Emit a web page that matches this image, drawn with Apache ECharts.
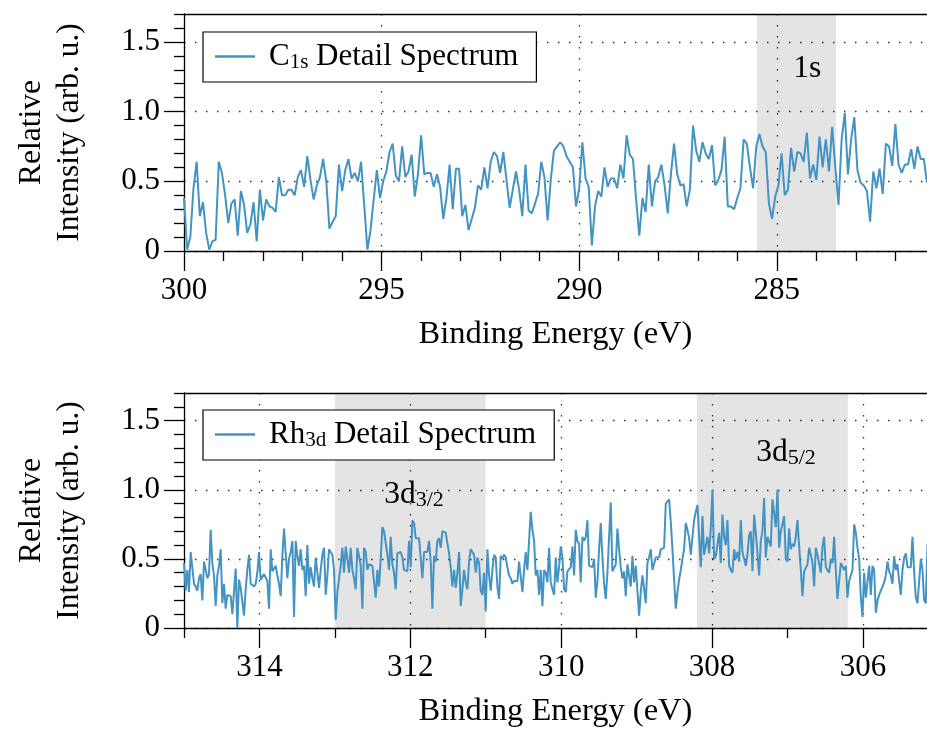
<!DOCTYPE html>
<html><head><meta charset="utf-8">
<script src="https://cdn.jsdelivr.net/npm/echarts@6/dist/echarts.min.js"></script>
<style>html,body{margin:0;padding:0;background:#fff}#c{width:927px;height:729px}</style>
</head><body><div id="c"></div>
<script>
// ---------- data ----------
const C1S_START = 300, C1S_STEP = 0.08;
const c1sIntensity = [
0.38,0.01,0.1,0.45,0.64,0.25,0.35,0.13,0.01,0.07,
0.08,0.64,0.56,0.4,0.2,0.34,0.37,0.11,0.43,0.33,
0.13,0.19,0.35,0.07,0.44,0.22,0.37,0.32,0.31,0.28,
0.53,0.4,0.4,0.44,0.44,0.4,0.53,0.58,0.46,0.68,
0.51,0.37,0.47,0.53,0.66,0.5,0.16,0.21,0.25,0.62,
0.43,0.58,0.66,0.52,0.56,0.5,0.64,0.33,
0.01,0.15,0.37,0.58,0.38,0.5,0.57,0.71,0.77,0.54,
0.5,0.75,0.53,0.57,0.69,0.39,0.55,0.83,0.55,0.56,
0.56,0.46,0.55,0.46,0.23,0.38,0.62,0.3,0.59,0.59,
0.25,0.33,0.15,0.23,0.31,0.47,0.44,0.6,0.45,0.64,
0.71,0.68,0.56,0.71,0.51,0.31,0.44,0.57,0.44,0.25,
0.62,0.29,0.27,0.34,0.41,0.64,
0.53,0.22,0.51,0.72,0.75,0.78,0.75,0.68,0.64,0.6,
0.32,0.45,0.78,0.52,0.46,0.04,0.32,0.43,0.39,0.6,
0.46,0.52,0.52,0.45,0.62,0.52,0.83,0.69,0.66,0.37,
0.11,0.38,0.28,0.62,0.32,0.5,0.53,0.62,0.47,0.27,
0.55,0.77,0.55,0.47,0.48,0.32,0.44,0.9,0.72,0.64,
0.78,0.7,0.66,0.76,0.47,0.51,0.58,0.82,0.32,
0.32,0.3,0.38,0.45,0.8,0.77,0.6,0.45,0.75,0.84,
0.75,0.71,0.34,0.23,0.39,0.47,0.7,0.4,0.44,0.74,
0.57,0.71,0.7,0.64,0.85,0.52,0.62,0.51,0.82,0.6,
0.8,0.57,0.89,0.6,0.33,0.8,0.99,0.55,0.8,0.96,
0.58,0.49,0.47,0.43,0.21,0.57,0.45,0.59,0.41,0.77,
0.75,0.61,0.91,0.62,0.56,0.62,0.62,0.73,0.59,0.75,
0.66,0.66,0.49
];
const RH_START = 315, RH_STEP = 0.0221;
const rh3dIntensity = [
0.47,0.27,0.42,0.26,0.55,0.55,0.32,0.3,0.27,0.36,
0.39,0.2,0.48,0.48,0.36,0.39,0.71,0.47,0.38,0.16,
0.38,0.45,0.57,0.18,0.32,0.14,0.24,0.23,0.23,0.1,
0.11,0.43,0.0,0.35,0.29,0.28,0.09,0.28,0.42,0.53,
0.32,0.33,0.3,0.32,0.4,0.55,0.35,0.34,0.39,0.38,
0.34,0.14,0.57,0.41,0.42,0.45,0.38,0.32,0.23,0.52,
0.72,0.72,0.36,0.5,0.55,0.63,0.08,0.63,0.52,0.45,
0.57,0.42,0.45,0.23,0.6,0.32,0.44,0.36,0.3,0.51,
0.51,0.29,0.42,0.53,0.58,0.24,0.38,0.57,0.55,0.53,
0.42,0.06,0.26,0.26,0.45,0.58,0.4,0.59,0.5,0.4,
0.58,0.42,0.36,0.28,0.58,0.52,0.45,
0.14,0.58,0.55,0.42,0.46,0.45,0.45,0.45,0.22,0.42,
0.3,0.5,0.73,0.7,0.7,0.53,0.42,0.66,0.46,0.4,
0.28,0.54,0.55,0.55,0.51,0.42,0.42,0.41,0.63,0.44,
0.78,0.76,0.65,0.66,0.65,0.65,0.36,0.55,0.55,0.55,
0.63,0.48,0.14,0.52,0.48,0.63,0.65,0.58,0.7,0.69,
0.69,0.68,0.54,0.44,0.3,0.42,0.29,0.4,0.55,0.16,
0.28,0.42,0.33,0.28,0.48,0.57,0.58,0.53,0.4,0.51,
0.47,0.27,0.24,0.4,0.12,0.57,0.38,0.27,0.42,0.53,
0.51,0.3,0.21,0.52,0.5,0.53,0.51,0.44,0.38,0.36,
0.32,0.34,0.34,0.34,0.48,0.48,0.26,0.42,0.55,0.42,
0.63,0.84,0.71,0.63,0.38,0.42,0.24,0.42,
0.16,0.42,0.4,0.33,0.58,0.33,0.28,0.24,0.51,0.33,
0.44,0.59,0.51,0.28,0.26,0.41,0.42,0.44,0.59,0.38,
0.71,0.63,0.61,0.33,0.66,0.63,0.66,0.78,0.45,0.45,
0.44,0.5,0.22,0.34,0.57,0.76,0.51,0.32,0.21,0.4,
0.66,0.91,0.41,0.41,0.46,0.72,0.57,0.44,0.36,0.41,
0.23,0.46,0.46,0.3,0.52,0.33,0.45,0.46,0.09,0.26,
0.38,0.38,0.18,0.47,0.51,0.57,0.42,0.41,0.51,0.5,
0.51,0.57,0.58,0.58,0.9,0.91,0.93,0.77,0.57,0.35,
0.14,0.26,0.35,0.42,0.5,0.57,0.76,0.71,0.65,0.53,
0.52,0.78,0.84,0.89,0.66,0.44,0.81,0.53,0.53,0.66,
0.54,0.72,1.0,0.5,0.52,0.53,0.69,0.47,
0.82,0.66,0.6,0.78,0.45,0.42,0.4,0.57,0.5,0.55,
0.48,0.78,0.55,0.5,0.45,0.53,0.67,0.7,0.41,0.82,
0.69,0.54,0.38,0.63,0.7,0.94,0.51,0.66,0.66,0.59,
0.93,0.93,0.73,1.0,0.58,0.7,0.75,0.81,0.5,0.48,
0.72,0.57,0.61,0.59,0.66,0.78,0.59,0.42,0.23,0.41,
0.42,0.46,0.58,0.53,0.47,0.3,0.58,0.53,0.52,0.4,
0.59,0.66,0.44,0.42,0.4,0.5,0.47,0.66,0.42,0.21,
0.21,0.47,0.46,0.42,0.45,0.22,0.34,0.38,0.42,0.75,
0.69,0.58,0.5,0.22,0.08,0.4,0.22,0.22,0.45,0.24,
0.45,0.42,0.11,0.2,0.24,0.27,0.3,0.33,0.38,0.48,
0.41,0.38,0.32,0.52,0.42,0.46,0.34,0.24,0.42,0.51,
0.54,0.44,0.44,0.44,0.66,0.4,0.22,0.18,0.34,0.5,
0.42,0.2,0.18,0.61
];
const c1sRange = [281.2, 300];
const rhRange = [305.15, 315];
const yRange = [0, 1.7];
const c1sMajorTicks = [300, 295, 290, 285];
const c1sMinorTicks = [299,298,297,296,294,293,292,291,289,288,287,286,284,283,282];
const rhMajorTicks = [314, 312, 310, 308, 306];
const rhMinorTicks = [315, 313, 311, 309, 307];
const yMajorTicks = [0, 0.5, 1.0, 1.5];
const yMinorTicks = [0.1,0.2,0.3,0.4,0.6,0.7,0.8,0.9,1.1,1.2,1.3,1.4,1.6,1.7];
const c1sRegions = [[285.5, 283.5]];
const rhRegions = [[313, 311], [308.2, 306.2]];
const c1sNotes = [{x: 284.23, y: 1.305, main: '1s', sub: ''}];
const rhNotes = [{x: 311.95, y: 0.965, main: '3d', sub: '3/2'}, {x: 307.02, y: 1.27, main: '3d', sub: '5/2'}];

// ---------- build ----------
const FONT = 'Liberation Serif';
const BLACK = '#000';
const LINE = '#4393c3';
const dotted = {color: '#333', width: 1.3, type: [1.5, 9.5]};

function mkPairs(start, step, vals) { return vals.map((v, i) => [+(start - i * step).toFixed(4), v]); }

function xAxes(grid, range, major, minor, name) {
  return [
    { gridIndex: grid, type: 'value', min: range[0], max: range[1], inverse: true, position: 'bottom',
      axisLine: {show: true, onZero: false, lineStyle: {color: BLACK, width: 1.3}},
      axisTick: {show: true, length: 20, customValues: major, lineStyle: {color: BLACK, width: 1.3}},
      axisLabel: {customValues: major, margin: 24, fontSize: 31, fontFamily: FONT, color: BLACK},
      splitLine: {show: true, lineStyle: dotted},
      name: name, nameLocation: 'middle', nameGap: 67,
      nameTextStyle: {fontSize: 32.5, fontFamily: FONT, color: BLACK} },
    { gridIndex: grid, type: 'value', min: range[0], max: range[1], inverse: true, position: 'bottom',
      axisLine: {show: false, onZero: false},
      axisTick: {show: true, length: 10, customValues: minor, lineStyle: {color: BLACK, width: 1.3}},
      axisLabel: {show: false}, splitLine: {show: false} },
    { gridIndex: grid, type: 'value', min: range[0], max: range[1], inverse: true, position: 'top',
      axisLine: {show: true, onZero: false, lineStyle: {color: BLACK, width: 1.3}},
      axisTick: {show: false}, axisLabel: {show: false}, splitLine: {show: false} }
  ];
}
function yAxes(grid) {
  return [
    { gridIndex: grid, type: 'value', min: yRange[0], max: yRange[1], position: 'left',
      axisLine: {show: true, onZero: false, lineStyle: {color: BLACK, width: 1.3}},
      axisTick: {show: true, length: 20, customValues: yMajorTicks, lineStyle: {color: BLACK, width: 1.3}},
      axisLabel: {customValues: yMajorTicks, margin: 24, fontSize: 31, fontFamily: FONT, color: BLACK,
        formatter: v => v === 0 ? '0' : v.toFixed(1)},
      splitLine: {show: true, lineStyle: dotted},
      name: 'Relative\nIntensity (arb. u.)', nameLocation: 'middle', nameRotate: 90, nameGap: 95,
      nameTextStyle: {fontSize: 31.5, lineHeight: 38, fontFamily: FONT, color: BLACK, align: 'center'} },
    { gridIndex: grid, type: 'value', min: yRange[0], max: yRange[1], position: 'left', offset: 0,
      axisLine: {show: false, onZero: false},
      axisTick: {show: true, length: 10, customValues: yMinorTicks, lineStyle: {color: BLACK, width: 1.3}},
      axisLabel: {show: false}, splitLine: {show: false} }
  ];
}
const noteRich = {
  m: {fontSize: 31.5, fontFamily: FONT, color: BLACK, lineHeight: 34},
  s: {fontSize: 22, fontFamily: FONT, color: BLACK, lineHeight: 12, verticalAlign: 'bottom'}
};
function regionSeries(xi, yi, regions, notes) {
  return {
    type: 'line', xAxisIndex: xi, yAxisIndex: yi, data: [], z: 1, silent: true,
    markArea: {silent: true, itemStyle: {color: 'rgba(0,0,0,0.105)'},
      data: regions.map(r => [{xAxis: r[0]}, {xAxis: r[1]}])},
    markPoint: {silent: true, symbol: 'circle', symbolSize: 1, itemStyle: {color: 'rgba(0,0,0,0)'},
      label: {show: true, position: 'inside', rich: noteRich,
        formatter: p => '{m|' + p.data.main + '}' + (p.data.sub ? '{s|' + p.data.sub + '}' : '')},
      data: notes.map(n => ({coord: [n.x, n.y], main: n.main, sub: n.sub}))}
  };
}
function lineSeries(name, xi, yi, data) {
  return {type: 'line', name: name, xAxisIndex: xi, yAxisIndex: yi, data: data, z: 3,
    symbol: 'none', showSymbol: false, lineStyle: {color: LINE, width: 2}, itemStyle: {color: LINE}, clip: true};
}
const legendRich = {
  a: {fontSize: 31, fontFamily: FONT, color: BLACK, lineHeight: 33, padding: [0, 0, 0, 9]},
  m: {fontSize: 31, fontFamily: FONT, color: BLACK, lineHeight: 33},
  s: {fontSize: 21, fontFamily: FONT, color: BLACK, lineHeight: 12, verticalAlign: 'bottom'}
};
const legendText = {
  'C1s Detail Spectrum': '{a|C}{s|1s}{m| Detail Spectrum}',
  'Rh3d Detail Spectrum': '{a|Rh}{s|3d}{m| Detail Spectrum}'
};
function mkLegend(name, left, top) {
  return {data: [{name: name, icon: 'rect'}], left: left, top: top, orient: 'vertical', selectedMode: false,
    backgroundColor: '#fff', borderColor: BLACK, borderWidth: 1.2, borderRadius: 0,
    padding: [9, 18, 9, 12], itemWidth: 40, itemHeight: 2.5,
    formatter: n => legendText[n], textStyle: {rich: legendRich}};
}

const chart = echarts.init(document.getElementById('c'), null, {renderer: 'canvas'});
chart.setOption({
  animation: false,
  backgroundColor: '#fff',
  grid: [
    {left: 184, top: 14, width: 743, height: 237},
    {left: 184, top: 393, width: 743, height: 236}
  ],
  xAxis: [].concat(
    xAxes(0, c1sRange, c1sMajorTicks, c1sMinorTicks, 'Binding Energy (eV)'),
    xAxes(1, rhRange, rhMajorTicks, rhMinorTicks, 'Binding Energy (eV)')),
  yAxis: [].concat(yAxes(0), yAxes(1)),
  legend: [mkLegend('C1s Detail Spectrum', 203, 32), mkLegend('Rh3d Detail Spectrum', 203, 410)],
  series: [
    regionSeries(0, 0, c1sRegions, c1sNotes),
    lineSeries('C1s Detail Spectrum', 0, 0, mkPairs(C1S_START, C1S_STEP, c1sIntensity)),
    regionSeries(3, 2, rhRegions, rhNotes),
    lineSeries('Rh3d Detail Spectrum', 3, 2, mkPairs(RH_START, RH_STEP, rh3dIntensity))
  ]
});
</script></body></html>
